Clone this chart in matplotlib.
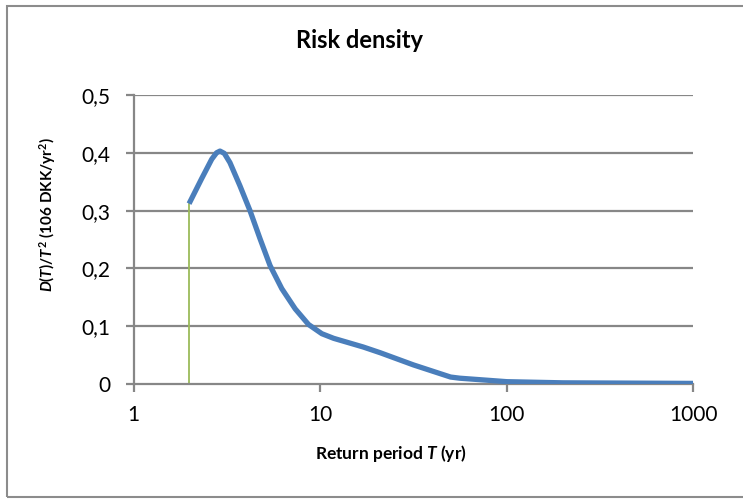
import matplotlib.pyplot as plt
from matplotlib.patches import Rectangle

# valores
periodo = [1.98, 2.31, 2.62, 2.78, 2.9, 3.06, 3.28, 3.71, 4.2, 4.76, 5.38, 6.22, 7.34, 8.65, 10.2, 11.8,
           17, 21, 31.6, 50, 56, 100, 200, 1000]
densidade = [0.312, 0.355, 0.389, 0.400, 0.403, 0.399, 0.383, 0.343, 0.300, 0.251, 0.205, 0.165, 0.130, 0.103,
             0.087, 0.079, 0.064, 0.054, 0.033, 0.012, 0.010, 0.004, 0.002, 0.001]
y_ticks = [0, 0.1, 0.2, 0.3, 0.4, 0.5]
y_labels = ['0', '0,1', '0,2', '0,3', '0,4', '0,5']
x_ticks = [1, 10, 100, 1000]
x_labels = ['1', '10', '100', '1000']

plt.rcParams['font.family'] = ['Lato', 'DejaVu Sans']
plt.rcParams['mathtext.fontset'] = 'custom'
plt.rcParams['mathtext.rm'] = 'Lato:bold'
plt.rcParams['mathtext.it'] = 'Lato:italic:bold'
plt.rcParams['mathtext.bf'] = 'Lato:bold'

fig = plt.figure(figsize=(7.43, 4.99), dpi=100)
ax = fig.add_axes([0.180, 0.2305, 0.753, 0.5791])

# moldura externa
fig.patches.append(Rectangle((7/743, 2/499), 740/743, 491/499, transform=fig.transFigure,
                             fill=False, edgecolor='#8c8c8c', linewidth=1.5))

grid_cor = '#878787'
for v in y_ticks[1:]:
    ax.axhline(v, color=grid_cor, linewidth=1.6, zorder=1)

# linha vertical em T=2
ax.plot([periodo[0], periodo[0]], [0, densidade[0]], color='#9BBB59', linewidth=1.3, zorder=2)
ax.plot(periodo, densidade, color='#4A7EBB', linewidth=3.8, solid_capstyle='butt',
        solid_joinstyle='round', zorder=3)

ax.set_xscale('log')
ax.set_xlim(1, 1000)
ax.set_ylim(0, 0.5)
ax.set_xticks(x_ticks)
ax.set_xticklabels(x_labels)
ax.minorticks_off()
ax.set_yticks(y_ticks)
ax.set_yticklabels(y_labels)

for s in ['top', 'right']:
    ax.spines[s].set_visible(False)
for s in ['left', 'bottom']:
    ax.spines[s].set_color(grid_cor)
    ax.spines[s].set_linewidth(1.6)

ax.tick_params(axis='y', direction='out', length=6, width=1.6, color=grid_cor, pad=11, labelsize=15)
ax.tick_params(axis='x', direction='out', length=6, width=1.6, color=grid_cor, pad=9, labelsize=15)

ax.set_xlabel(r'Return period $T$ (yr)', fontsize=12.5, fontweight='bold')
ax.xaxis.set_label_coords(0.46, -0.205)
ax.set_ylabel(r'$D$($T$)/$T^2$ (106 DKK/yr$^2$)', fontsize=11, fontweight='bold')
ax.yaxis.set_label_coords(-0.136, 0.585)

fig.text(359/743, 1 - 48/499, 'Risk density', ha='center', va='baseline', fontsize=17, fontweight='bold')

plt.savefig('out.png', dpi=100)
